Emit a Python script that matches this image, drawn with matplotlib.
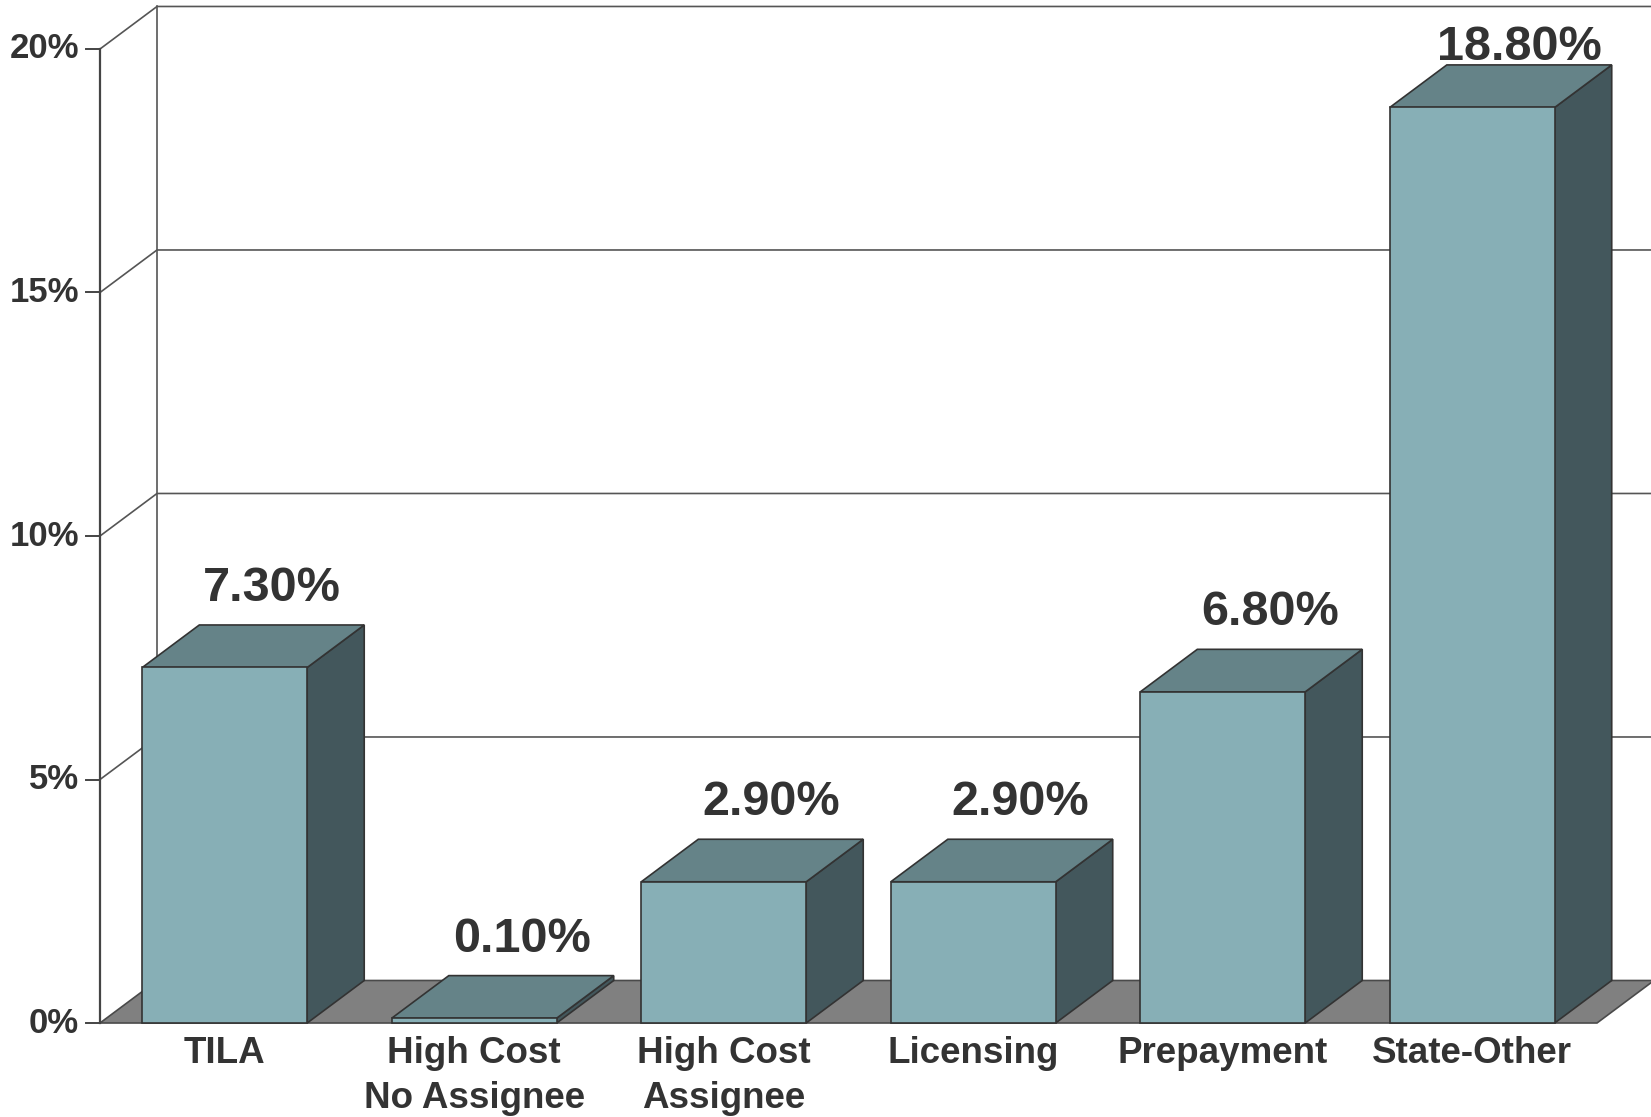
import matplotlib.pyplot as plt
from matplotlib.patches import Polygon

categories = ['TILA', 'High Cost\nNo Assignee', 'High Cost\nAssignee',
              'Licensing', 'Prepayment', 'State-Other']
values = [7.3, 0.1, 2.9, 2.9, 6.8, 18.8]
value_labels = ['7.30%', '0.10%', '2.90%', '2.90%', '6.80%', '18.80%']
ticks = [0, 5, 10, 15, 20]
tick_labels = ['0%', '5%', '10%', '15%', '20%']

plt.rcParams['font.family'] = ['Liberation Sans', 'DejaVu Sans']

fig = plt.figure(figsize=(16.51, 11.17), dpi=100)
ax = fig.add_axes([0, 0, 1, 1])
ax.set_xlim(-0.9008, 5.7164)
ax.set_ylim(-1.93, 21.006)
ax.axis('off')

# pseudo-3D geometry (category units / percent units)
w = 0.661
dx, dy = 0.2285, 0.873
x0, x1 = -0.5, len(values) - 0.5
xmax = ax.get_xlim()[1]
line_c = '#555555'
text_c = '#333333'

# back wall with gridlines
for t in ticks[1:]:
    ax.plot([x0, x0 + dx, xmax], [t, t + dy, t + dy], color=line_c, lw=1.2, zorder=1)
ax.plot([x0 + dx, x0 + dx], [dy, ticks[-1] + dy], color=line_c, lw=1.2, zorder=1)

# floor
floor = Polygon([(x0, 0), (x1, 0), (x1 + dx, dy), (x0 + dx, dy)],
                closed=True, facecolor='#808080', edgecolor='#4a4a4a', lw=1.2, zorder=2)
ax.add_patch(floor)

# front value axis
ax.plot([x0, x0], [0, ticks[-1]], color='#444444', lw=1.6, zorder=3)
for t, lab in zip(ticks, tick_labels):
    ax.plot([x0 - 0.056, x0], [t, t], color='#444444', lw=1.4, zorder=3)
    ax.text(x0 - 0.085, t, lab, ha='right', va='center', fontsize=25,
            fontweight='bold', color=text_c)

# bars
front_c, top_c, side_c = '#87afb6', '#658388', '#43575c'
for i, v in enumerate(values):
    l, r = i - w / 2, i + w / 2
    z = 4 + i
    front = Polygon([(l, 0), (r, 0), (r, v), (l, v)], closed=True,
                    facecolor=front_c, edgecolor='#333333', lw=1.2, zorder=z)
    top = Polygon([(l, v), (r, v), (r + dx, v + dy), (l + dx, v + dy)], closed=True,
                  facecolor=top_c, edgecolor='#333333', lw=1.2, zorder=z)
    side = Polygon([(r, 0), (r + dx, dy), (r + dx, v + dy), (r, v)], closed=True,
                   facecolor=side_c, edgecolor='#333333', lw=1.2, zorder=z)
    for p in (side, top, front):
        ax.add_patch(p)
    ax.text(i + 0.19, min(v + dy + 0.49, 19.77), value_labels[i], ha='center',
            va='baseline', fontsize=35, fontweight='bold', color=text_c, zorder=20)
    ax.text(i, -0.26, categories[i], ha='center', va='top', fontsize=26.5,
            fontweight='bold', color=text_c, linespacing=1.4)

fig.savefig('out.png', dpi=100)
